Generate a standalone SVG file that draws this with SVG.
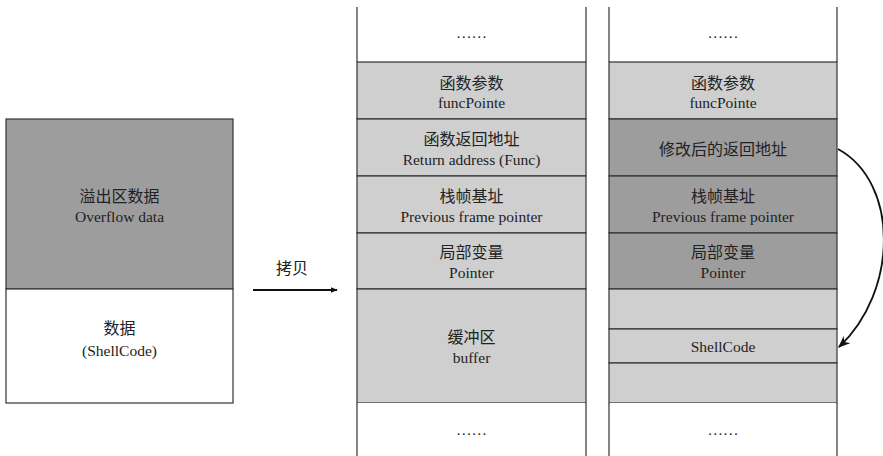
<svg xmlns="http://www.w3.org/2000/svg" width="883" height="456" viewBox="0 0 883 456">
<defs>
<style>
.cell{stroke:#333;stroke-width:1.2}
.w{fill:#ffffff}
.l{fill:#cfcfcf}
.d{fill:#9d9d9d}
.zh{font-family:"Noto Sans CJK SC",sans-serif;font-size:16px;fill:#222;text-anchor:middle}
.en{font-family:"Liberation Serif",serif;font-size:15.5px;fill:#222;text-anchor:middle}
.conn{fill:none;stroke:#111;stroke-width:1.8}
</style>
<marker id="ah" viewBox="0 0 10 10" refX="9" refY="5" markerWidth="7" markerHeight="7" orient="auto" markerUnits="userSpaceOnUse">
<path d="M0,1 L10,5 L0,9 z" fill="#111"/>
</marker>
<marker id="ah2" viewBox="0 0 10 10" refX="9" refY="5" markerWidth="12" markerHeight="12" orient="auto" markerUnits="userSpaceOnUse">
<path d="M0,1 L10,5 L0,9 L3,5 z" fill="#111"/>
</marker>
</defs>
<rect width="883" height="456" fill="#ffffff"/>

<g id="source">
<rect class="cell d" x="6" y="119" width="227" height="170"/>
<text class="zh" x="119.5" y="202">溢出区数据</text>
<text class="en" x="119.5" y="222">Overflow data</text>
<rect class="cell w" x="6" y="289" width="227" height="114"/>
<text class="zh" x="119.5" y="334">数据</text>
<text class="en" x="119.5" y="356">(ShellCode)</text>
</g>

<g id="stack-before">
<rect class="w" x="357" y="0" width="229" height="62"/>
<line class="cell" x1="357" y1="7" x2="357" y2="62"/>
<line class="cell" x1="586" y1="7" x2="586" y2="62"/>
<text class="en" x="471.5" y="38">……</text>
<rect class="cell l" x="357" y="62" width="229" height="57"/>
<text class="zh" x="471.5" y="89">函数参数</text>
<text class="en" x="471.5" y="108">funcPointe</text>
<rect class="cell l" x="357" y="119" width="229" height="57"/>
<text class="zh" x="471.5" y="145">函数返回地址</text>
<text class="en" x="471.5" y="165">Return address (Func)</text>
<rect class="cell l" x="357" y="176" width="229" height="57"/>
<text class="zh" x="471.5" y="202">栈帧基址</text>
<text class="en" x="471.5" y="222">Previous frame pointer</text>
<rect class="cell l" x="357" y="233" width="229" height="56"/>
<text class="zh" x="471.5" y="258">局部变量</text>
<text class="en" x="471.5" y="278">Pointer</text>
<rect class="cell l" x="357" y="289" width="229" height="114"/>
<text class="zh" x="471.5" y="343">缓冲区</text>
<text class="en" x="471.5" y="363">buffer</text>
<rect class="w" x="357" y="403" width="229" height="53"/>
<line class="cell" x1="357" y1="403" x2="357" y2="456"/>
<line class="cell" x1="586" y1="403" x2="586" y2="456"/>
<text class="en" x="471.5" y="435">……</text>
</g>

<g id="stack-after">
<rect class="w" x="609" y="0" width="228" height="62"/>
<line class="cell" x1="609" y1="7" x2="609" y2="62"/>
<line class="cell" x1="837" y1="7" x2="837" y2="62"/>
<text class="en" x="723" y="38">……</text>
<rect class="cell l" x="609" y="62" width="228" height="57"/>
<text class="zh" x="723" y="89">函数参数</text>
<text class="en" x="723" y="108">funcPointe</text>
<rect class="cell d" x="609" y="119" width="228" height="57"/>
<text class="zh" x="723" y="155">修改后的返回地址</text>
<rect class="cell d" x="609" y="176" width="228" height="57"/>
<text class="zh" x="723" y="202">栈帧基址</text>
<text class="en" x="723" y="222">Previous frame pointer</text>
<rect class="cell d" x="609" y="233" width="228" height="56"/>
<text class="zh" x="723" y="258">局部变量</text>
<text class="en" x="723" y="278">Pointer</text>
<rect class="cell l" x="609" y="289" width="228" height="40"/>
<rect class="cell l" x="609" y="329" width="228" height="34"/>
<text class="en" x="723" y="352">ShellCode</text>
<rect class="cell l" x="609" y="363" width="228" height="40"/>
<rect class="w" x="609" y="403" width="228" height="53"/>
<line class="cell" x1="609" y1="403" x2="609" y2="456"/>
<line class="cell" x1="837" y1="403" x2="837" y2="456"/>
<text class="en" x="723" y="435">……</text>
</g>

<g id="connectors">
<line class="conn" x1="253" y1="290" x2="337" y2="290" marker-end="url(#ah)"/>
<text class="zh" x="292" y="274">拷贝</text>
<path class="conn" d="M838,149 C900,183 898,292 839,347" marker-end="url(#ah2)"/>
</g>
</svg>
